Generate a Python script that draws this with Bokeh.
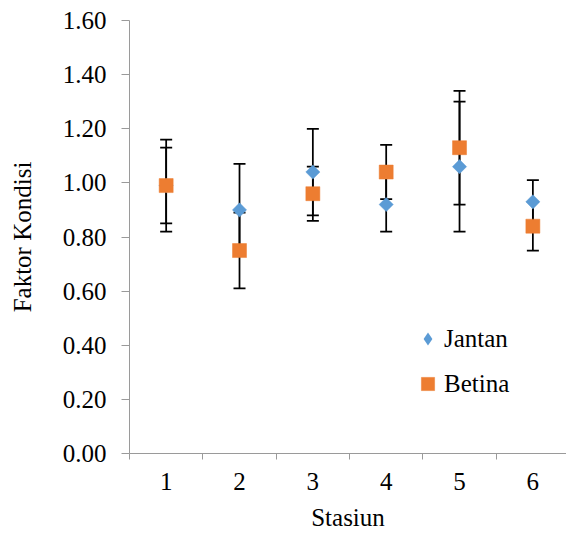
from bokeh.plotting import figure
from bokeh.models import (ColumnDataSource, FixedTicker, NumeralTickFormatter, Whisker,
                          TeeHead, Legend, LegendItem, Range1d)
from bokeh.embed import file_html
from bokeh.resources import INLINE
import math

# ---- data ----
stations = [1, 2, 3, 4, 5, 6]
station_labels = ["1", "2", "3", "4", "5", "6"]
jantan = [0.99, 0.90, 1.04, 0.92, 1.06, 0.93]
jantan_err = [0.17, 0.17, 0.16, 0.10, 0.24, 0.08]
betina = [0.99, 0.75, 0.96, 1.04, 1.13, 0.84]
betina_err = [0.14, 0.14, 0.10, 0.10, 0.21, 0.09]
y_ticks = [0.0, 0.2, 0.4, 0.6, 0.8, 1.0, 1.2, 1.4, 1.6]

BLUE = "#5B9BD5"
ORANGE = "#ED7D31"
AXIS = "#9a9a9a"
FONT = "Liberation Serif"
FS = "25px"

src_j = ColumnDataSource(dict(x=stations, y=jantan,
                              lo=[v - e for v, e in zip(jantan, jantan_err)],
                              hi=[v + e for v, e in zip(jantan, jantan_err)]))
src_b = ColumnDataSource(dict(x=stations, y=betina,
                              lo=[v - e for v, e in zip(betina, betina_err)],
                              hi=[v + e for v, e in zip(betina, betina_err)]))

W, H = 566, 533
LEFT, TOP, BOTTOM = 129, 20, 80
PX_PER_CAT = 73.34
p = figure(width=W, height=H, output_backend="svg", toolbar_location=None,
           x_range=Range1d(0.5, 0.5 + (W - LEFT) / PX_PER_CAT), y_range=Range1d(0, 1.6),
           min_border_left=LEFT, min_border_right=0, min_border_top=TOP, min_border_bottom=BOTTOM)
p.outline_line_color = None
p.grid.grid_line_color = None
p.background_fill_color = "white"
p.border_fill_color = "white"

for src in (src_j, src_b):
    w = Whisker(base="x", lower="lo", upper="hi", source=src, dimension="height",
                line_color="black", line_width=1.75, level="underlay",
                upper_head=TeeHead(size=12, line_color="black", line_width=1.75),
                lower_head=TeeHead(size=12, line_color="black", line_width=1.75))
    p.add_layout(w)

rj = p.scatter("x", "y", source=src_j, marker="square", size=10, angle=math.pi / 4,
               fill_color=BLUE, line_color=BLUE, line_width=0.5)
rb = p.scatter("x", "y", source=src_b, marker="square", size=14,
               fill_color=ORANGE, line_color=ORANGE, line_width=0.5)
# legend-only glyph: zero size in the plot; legend glyphs are drawn unrotated, so use the diamond marker
rj_leg = p.scatter("x", "y", source=src_j, marker="diamond", size=0,
                   fill_color=BLUE, line_color=None)

# axes
xa = p.xaxis[0]
xa.ticker = FixedTicker(ticks=stations, minor_ticks=[s - 0.5 for s in stations] + [stations[-1] + 0.5])
xa.major_label_overrides = {s: l for s, l in zip(stations, station_labels)}
xa.major_tick_out = 0
xa.major_tick_in = 0
xa.minor_tick_out = 6
xa.minor_tick_in = 0
xa.minor_tick_line_color = AXIS
xa.axis_line_color = AXIS
xa.major_label_standoff = 13
xa.axis_label = "Stasiun"
xa.axis_label_standoff = 11

ya = p.yaxis[0]
ya.ticker = FixedTicker(ticks=y_ticks)
ya.formatter = NumeralTickFormatter(format="0.00")
ya.major_tick_out = 8
ya.major_tick_in = 0
ya.minor_tick_line_color = None
ya.major_tick_line_color = AXIS
ya.axis_line_color = AXIS
ya.major_label_standoff = 15
ya.axis_label = "Faktor Kondisi"
ya.axis_label_standoff = 24

for ax in (xa, ya):
    ax.major_label_text_font = FONT
    ax.major_label_text_font_size = FS
    ax.major_label_text_color = "black"
    ax.axis_label_text_font = FONT
    ax.axis_label_text_font_size = FS
    ax.axis_label_text_font_style = "normal"
    ax.axis_label_text_color = "black"

G = 33
lg = Legend(items=[LegendItem(label="Jantan", renderers=[rj_leg]),
                   LegendItem(label="Betina", renderers=[rb])],
            location=(282, 53), orientation="vertical",
            glyph_width=G, glyph_height=G, label_height=G, label_standoff=0,
            padding=0, margin=0, spacing=12,
            background_fill_alpha=0, border_line_alpha=0,
            label_text_font=FONT, label_text_font_size=FS, label_text_color="black")
p.add_layout(lg)

open("out.html", "w").write(file_html(p, INLINE))
